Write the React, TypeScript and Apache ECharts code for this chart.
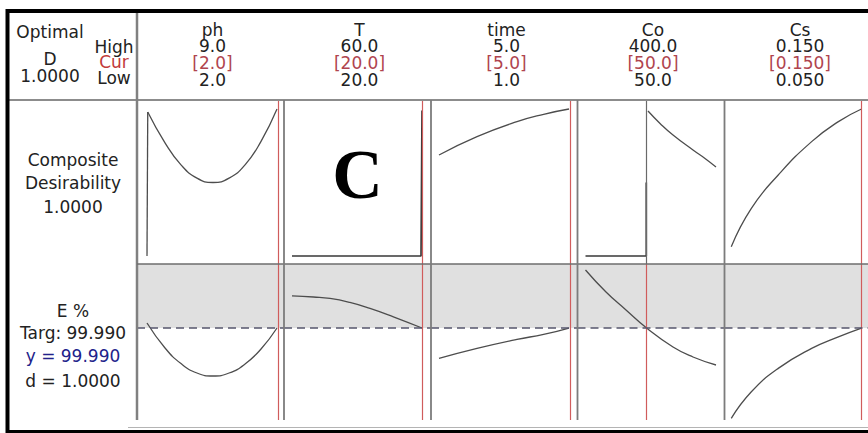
import React, { useEffect, useRef } from "react";
import * as echarts from "echarts";

// Factor header content
const factorNames = ["ph", "T", "time", "Co", "Cs"];
const highLabels = ["9.0", "60.0", "5.0", "400.0", "0.150"];
const curLabels = ["[2.0]", "[20.0]", "[5.0]", "[50.0]", "[0.150]"];
const lowLabels = ["2.0", "20.0", "1.0", "50.0", "0.050"];
const factorLow = [2, 20, 1, 50, 0.05];
const factorHigh = [9, 60, 5, 400, 0.15];
// where the vertical setting line is drawn in each factor panel
const settingLine = [9.05, 60.2, 5.03, 214, 0.1505];

// Response target
const TARGET = 99.99;

// Composite desirability traces (factor value, d)
const phDesir = [[2.04, 0.98], [2.97, 0.77], [3.83, 0.62], [4.69, 0.53], [5.55, 0.5], [6.42, 0.53], [7.28, 0.62], [8.14, 0.78], [9.0, 1.0]];
const phDesirStep = [[2.0, 0], [2.04, 0.98]];
const tDesir: number[][] = [];
const tDesirStep = [[20, 0], [59.7, 0], [60, 0.99]];
const timeDesir = [[1.0, 0.687], [2.17, 0.812], [3.4, 0.914], [4.22, 0.964], [5.0, 1.0]];
const timeDesirStep: number[][] = [];
const coDesir = [[217.6, 0.986], [250.6, 0.9], [284.7, 0.823], [338.3, 0.721], [369.7, 0.665], [400, 0.605]];
const coDesirStep = [[50, 0], [213, 0], [213, 0.5]];
const csDesir = [[0.0502, 0.063], [0.0656, 0.324], [0.0862, 0.551], [0.1118, 0.778], [0.1323, 0.914], [0.15, 1.0]];
const csDesirStep: number[][] = [];

// Predicted E % traces (factor value, E %)
const phE = [[2.0, 102.5], [2.97, 90.0], [3.83, 82.2], [4.69, 77.5], [5.55, 76.0], [6.42, 77.5], [7.28, 82.0], [8.14, 89.5], [9.0, 99.99]];
const tE = [[20, 116.1], [26.6, 115.5], [31.7, 114.8], [37.8, 112.8], [44.0, 109.8], [51.2, 105.6], [60, 99.99]];
const timeE = [[1.0, 84.8], [2.17, 89.8], [3.4, 94.3], [4.22, 96.8], [5.0, 99.99]];
const coE = [[50, 129.0], [105, 118.0], [158.6, 109.0], [214, 99.99], [284.7, 90.5], [338.3, 85.5], [400, 81.5]];
const csE = [[0.0502, 54.8], [0.0656, 68.1], [0.0862, 79.8], [0.1118, 89.8], [0.1323, 95.6], [0.15, 99.99]];

const desirCurves = [phDesir, tDesir, timeDesir, coDesir, csDesir];
const desirSteps = [phDesirStep, tDesirStep, timeDesirStep, coDesirStep, csDesirStep];
const eCurves = [phE, tE, timeE, coE, csE];

// Layout (pixels)
const PANEL_EDGES = [137, 284, 431, 577.5, 724.5, 868];
const CURVE_LO = [147, 292, 439, 585.5, 731];
const CURVE_HI = [277, 422, 569, 716, 861.5];
const ROW_TOP = 100;
const ROW_MID = 264;
const ROW_BOTTOM = 420;
const D_AXIS = { min: -0.0544, max: 1.0612 };
const E_AXIS = { min: 54, max: 132 };

const FONT = "DejaVu Sans";
const TEXT = "#222222";
const RED_TEXT = "#c23a3a";
const BRACKET_TEXT = "#b0444e";
const BLUE_TEXT = "#22228a";
const CURVE = "#4d4d4d";
const STEP = "#383838";
const SETTING = "#d05c5c";
const BORDER = "#7c7c7c";

function label(text: string, x: number, y: number, fill = TEXT, size = 17) {
  return {
    type: "text",
    z: 20,
    style: {
      text,
      x,
      y,
      fill,
      fontSize: size,
      fontFamily: FONT,
      textAlign: "center",
      textVerticalAlign: "middle",
    },
  };
}

function seg(x1: number, y1: number, x2: number, y2: number, stroke: string, lineWidth: number) {
  return { type: "line", z: 15, shape: { x1, y1, x2, y2 }, style: { stroke, lineWidth } };
}

function buildOption() {
  const grid: any[] = [];
  const xAxis: any[] = [];
  const yAxis: any[] = [];
  const series: any[] = [];

  for (let row = 0; row < 2; row++) {
    for (let i = 0; i < 5; i++) {
      const L = PANEL_EDGES[i];
      const R = PANEL_EDGES[i + 1];
      const k = (factorHigh[i] - factorLow[i]) / (CURVE_HI[i] - CURVE_LO[i]);
      const idx = row * 5 + i;
      grid.push({
        left: L,
        width: R - L,
        top: row === 0 ? ROW_TOP : ROW_MID,
        height: row === 0 ? ROW_MID - ROW_TOP : ROW_BOTTOM - ROW_MID,
      });
      xAxis.push({
        type: "value",
        gridIndex: idx,
        show: false,
        min: factorLow[i] - (CURVE_LO[i] - L) * k,
        max: factorHigh[i] + (R - CURVE_HI[i]) * k,
      });
      const ax = row === 0 ? D_AXIS : E_AXIS;
      yAxis.push({ type: "value", gridIndex: idx, show: false, min: ax.min, max: ax.max });
    }
  }

  const base = {
    type: "line",
    showSymbol: false,
    symbol: "none",
    silent: true,
    animation: false,
  };

  for (let i = 0; i < 5; i++) {
    const topSetting = {
      silent: true,
      symbol: ["none", "none"],
      label: { show: false },
      lineStyle: { color: i === 3 ? "#6a6a6a" : SETTING, width: 1.2, type: "solid" },
      data: [{ xAxis: settingLine[i] }],
    };
    const curve = desirCurves[i];
    const step = desirSteps[i];
    let placed = false;
    if (curve.length) {
      series.push({
        ...base,
        xAxisIndex: i,
        yAxisIndex: i,
        data: curve,
        smooth: 0.5,
        lineStyle: { color: CURVE, width: 1.3 },
        markLine: topSetting,
      });
      placed = true;
    }
    if (step.length) {
      series.push({
        ...base,
        xAxisIndex: i,
        yAxisIndex: i,
        data: step,
        smooth: false,
        z: 3,
        lineStyle: { color: i === 0 ? CURVE : STEP, width: i === 0 ? 1.3 : 1.7 },
        ...(placed ? {} : { markLine: topSetting }),
      });
    }

    series.push({
      ...base,
      xAxisIndex: i + 5,
      yAxisIndex: i + 5,
      data: eCurves[i],
      smooth: 0.5,
      z: 4,
      lineStyle: { color: CURVE, width: 1.3 },
      markArea: {
        silent: true,
        itemStyle: { color: "#e0e0e0" },
        data: [[{ yAxis: TARGET }, { yAxis: E_AXIS.max }]],
      },
      markLine: {
        silent: true,
        symbol: ["none", "none"],
        label: { show: false },
        data: [
          { xAxis: settingLine[i], lineStyle: { color: SETTING, width: 1.2, type: "solid" } },
          { yAxis: TARGET, lineStyle: { color: "#55556c", width: 1.5, type: [8, 5] } },
        ],
      },
    });
  }

  const graphics: any[] = [];
  // frame and dividers
  graphics.push(seg(8, ROW_TOP, 868, ROW_TOP, "#8c8c8c", 2));
  graphics.push(seg(137, 12, 137, ROW_BOTTOM, "#808080", 2.5));
  graphics.push(seg(137, ROW_MID, 868, ROW_MID, "#6e6e6e", 1.6));
  for (let i = 1; i < 5; i++) {
    graphics.push(seg(PANEL_EDGES[i], ROW_TOP, PANEL_EDGES[i], ROW_BOTTOM, BORDER, 1.8));
  }
  graphics.push(seg(128, 427.5, 868, 427.5, "#b4b4b4", 1));
  graphics.push(seg(7.5, 9, 7.5, 433, "#000000", 4));
  graphics.push(seg(6, 11, 868, 11, "#000000", 4));
  graphics.push(seg(6, 431.5, 868, 431.5, "#000000", 3));

  // header block
  graphics.push(label("Optimal", 50, 32));
  graphics.push(label("D", 50, 59));
  graphics.push(label("1.0000", 50, 76));
  graphics.push(label("High", 114, 47));
  graphics.push(label("Cur", 114, 62, RED_TEXT));
  graphics.push(label("Low", 114, 78));
  for (let i = 0; i < 5; i++) {
    const cx = PANEL_EDGES[i] + 75.5;
    graphics.push(label(factorNames[i], cx, 30));
    graphics.push(label(highLabels[i], cx, 46));
    graphics.push(label(curLabels[i], cx, 62.5, BRACKET_TEXT));
    graphics.push(label(lowLabels[i], cx, 79.5));
  }

  // row labels
  graphics.push(label("Composite", 73, 160));
  graphics.push(label("Desirability", 73, 183));
  graphics.push(label("1.0000", 73, 207));
  graphics.push(label("E %", 73, 310.5));
  graphics.push(label("Targ: 99.990", 73, 333));
  graphics.push(label("y = 99.990", 73, 356, BLUE_TEXT));
  graphics.push(label("d = 1.0000", 73, 380.5));

  // panel tag
  graphics.push({
    type: "text",
    z: 20,
    style: {
      text: "C",
      x: 357.5,
      y: 174,
      fill: "#000000",
      fontSize: 70,
      fontWeight: "bold",
      fontFamily: "Liberation Serif",
      textAlign: "center",
      textVerticalAlign: "middle",
    },
  });

  return {
    animation: false,
    backgroundColor: "#ffffff",
    grid,
    xAxis,
    yAxis,
    series,
    graphic: graphics,
  };
}

export default function App() {
  const ref = useRef<HTMLDivElement>(null);
  useEffect(() => {
    const chart = echarts.init(ref.current!, null, { renderer: "svg" });
    chart.setOption(buildOption() as any);
    return () => chart.dispose();
  }, []);
  return (
    <div
      ref={ref}
      style={{ position: "absolute", left: 0, top: 0, width: 868, height: 433, background: "#fff" }}
    />
  );
}
